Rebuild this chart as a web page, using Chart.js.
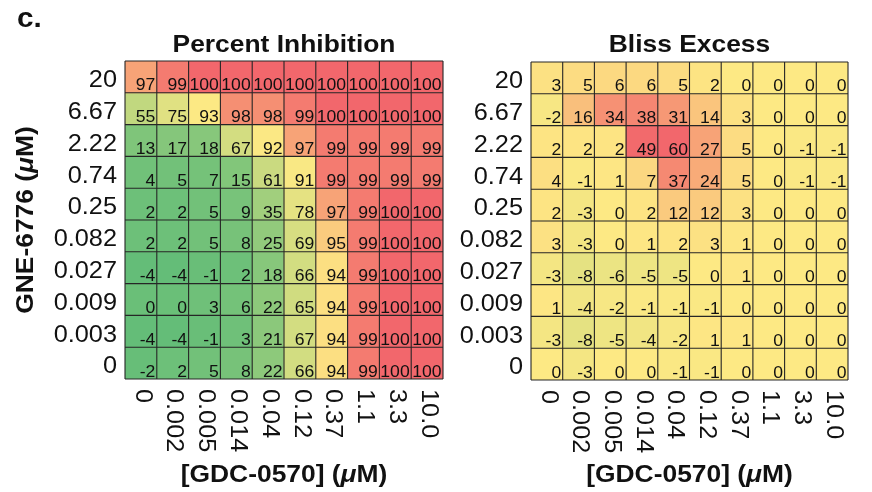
<!DOCTYPE html>
<html>
<head>
<meta charset="utf-8">
<script src="https://cdn.jsdelivr.net/npm/chart.js@4.4.1/dist/chart.umd.min.js"></script>
<style>
  html, body { margin: 0; padding: 0; background: #fff; }
  #wrap { position: relative; width: 872px; height: 492px; }
  #wrap canvas { position: absolute; left: 0; top: 0; }
</style>
</head>
<body>
<div id="wrap">
  <canvas id="inhib" width="872" height="492"></canvas>
  <canvas id="bliss" width="872" height="492"></canvas>
</div>
<script>
// ejes: GDC-0570 en columnas, GNE-6776 en filas (de arriba a abajo)
const gdcLabels = ['0', '0.002', '0.005', '0.014', '0.04', '0.12', '0.37', '1.1', '3.3', '10.0'];
const gneLabels = ['20', '6.67', '2.22', '0.74', '0.25', '0.082', '0.027', '0.009', '0.003', '0'];

// Percent Inhibition
const inhibRows = [
  [97, 99, 100, 100, 100, 100, 100, 100, 100, 100],
  [55, 75, 93, 98, 98, 99, 100, 100, 100, 100],
  [13, 17, 18, 67, 92, 97, 99, 99, 99, 99],
  [4, 5, 7, 15, 61, 91, 99, 99, 99, 99],
  [2, 2, 5, 9, 35, 78, 97, 99, 100, 100],
  [2, 2, 5, 8, 25, 69, 95, 99, 100, 100],
  [-4, -4, -1, 2, 18, 66, 94, 99, 100, 100],
  [0, 0, 3, 6, 22, 65, 94, 99, 100, 100],
  [-4, -4, -1, 3, 21, 67, 94, 99, 100, 100],
  [-2, 2, 5, 8, 22, 66, 94, 99, 100, 100]
];

// Bliss Excess
const blissRows = [
  [3, 5, 6, 6, 5, 2, 0, 0, 0, 0],
  [-2, 16, 34, 38, 31, 14, 3, 0, 0, 0],
  [2, 2, 2, 49, 60, 27, 5, 0, -1, -1],
  [4, -1, 1, 7, 37, 24, 5, 0, -1, -1],
  [2, -3, 0, 2, 12, 12, 3, 0, 0, 0],
  [3, -3, 0, 1, 2, 3, 1, 0, 0, 0],
  [-3, -8, -6, -5, -5, 0, 1, 0, 0, 0],
  [1, -4, -2, -1, -1, -1, 0, 0, 0, 0],
  [-3, -8, -5, -4, -2, 1, 1, 0, 0, 0],
  [0, -3, 0, 0, -1, -1, 0, 0, 0, 0]
];

const FONT = '"Liberation Sans", Arial, Helvetica, sans-serif';
const STRETCH = 1.1; // la fuente del original es algo más ancha
const GREEN = [100, 189, 120], YELLOW = [253, 233, 132], RED = [242, 103, 108];

function mix(a, b, t) {
  t = Math.max(0, Math.min(1, t));
  return 'rgb(' + a.map((v, i) => Math.round(v + (b[i] - v) * t)).join(',') + ')';
}
// escala de 3 colores tipo Excel
function scale3(lo, mid, hi) {
  return v => v <= mid ? mix(GREEN, YELLOW, (v - lo) / (mid - lo)) : mix(YELLOW, RED, (v - mid) / (hi - mid));
}
function median(rows) {
  const a = rows.flat().sort((p, q) => p - q), n = a.length;
  return n % 2 ? a[(n - 1) / 2] : (a[n / 2 - 1] + a[n / 2]) / 2;
}

function text(ctx, s, x, y) {
  ctx.save();
  ctx.translate(x, y);
  ctx.scale(STRETCH, 1);
  ctx.fillText(s, 0, 0);
  ctx.restore();
}

// texto en trozos [texto, italic]
function drawPieces(ctx, pieces, size, cx, cy) {
  const fonts = pieces.map(p => (p[1] ? 'italic ' : '') + 'bold ' + size + 'px ' + FONT);
  const widths = pieces.map((p, i) => { ctx.font = fonts[i]; return ctx.measureText(p[0]).width * STRETCH; });
  let x = cx - widths.reduce((s, w) => s + w, 0) / 2;
  ctx.textAlign = 'left';
  pieces.forEach((p, i) => { ctx.font = fonts[i]; text(ctx, p[0], x, cy); x += widths[i]; });
}

const heatText = {
  id: 'heatText',
  afterDatasetsDraw(chart, args, opts) {
    const ctx = chart.ctx, xs = chart.scales.x, ys = chart.scales.y, area = chart.chartArea;
    const nRows = chart.data.datasets.length, nCols = chart.data.labels.length;
    ctx.save();
    ctx.fillStyle = '#111';

    // valores en cada celda
    ctx.font = '16px ' + FONT;
    ctx.textAlign = 'right';
    ctx.textBaseline = 'alphabetic';
    chart.data.datasets.forEach((ds, r) => {
      chart.getDatasetMeta(r).data.forEach((bar, c) => {
        const bottom = Math.max(bar.y, bar.base);
        text(ctx, String(ds.values[c]), bar.x + bar.width / 2 - 1.5, bottom - 2.5);
      });
    });

    // rejilla
    ctx.strokeStyle = '#262626';
    ctx.lineWidth = 1.1;
    ctx.beginPath();
    for (let i = 0; i <= nCols; i++) {
      const x = xs.getPixelForValue(i - 0.5);
      ctx.moveTo(x, area.top); ctx.lineTo(x, area.bottom);
    }
    for (let j = 0; j <= nRows; j++) {
      const y = ys.getPixelForValue(j);
      ctx.moveTo(area.left, y); ctx.lineTo(area.right, y);
    }
    ctx.stroke();

    // etiquetas eje y
    ctx.font = '23px ' + FONT;
    ctx.textAlign = 'right';
    ctx.textBaseline = 'middle';
    gneLabels.forEach((lab, r) => {
      text(ctx, lab, area.left - 8, ys.getPixelForValue(nRows - r - 0.5) + 4);
    });

    // etiquetas eje x (giradas 90 grados)
    ctx.textAlign = 'left';
    gdcLabels.forEach((lab, c) => {
      ctx.save();
      ctx.translate(xs.getPixelForValue(c) + 1, area.bottom + 10);
      ctx.rotate(Math.PI / 2);
      text(ctx, lab, 0, 0);
      ctx.restore();
    });

    // titulos
    const cx = (area.left + area.right) / 2;
    ctx.textBaseline = 'alphabetic';
    ctx.textAlign = 'center';
    ctx.font = 'bold 24px ' + FONT;
    text(ctx, opts.title, cx, 52);
    drawPieces(ctx, [['[GDC-0570] (', false], ['\u03bc', true], ['M)', false]], 24, cx, 482);

    if (opts.yTitle) {
      ctx.save();
      ctx.translate(33, 220);
      ctx.rotate(-Math.PI / 2);
      drawPieces(ctx, [['GNE-6776 (', false], ['\u03bc', true], ['M)', false]], 24, 0, 0);
      ctx.restore();
      ctx.textAlign = 'left';
      ctx.font = 'bold 27px ' + FONT;
      text(ctx, 'c.', 17, 27);
    }
    ctx.restore();
  }
};

function makeHeatmap(canvasId, rows, colorOf, pad, extra) {
  const datasets = rows.map((vals, r) => ({
    label: gneLabels[r],
    data: vals.map(() => [rows.length - 1 - r, rows.length - r]),
    values: vals,
    backgroundColor: vals.map(colorOf),
    borderWidth: 0,
    barPercentage: 1,
    categoryPercentage: 1,
    grouped: false
  }));
  return new Chart(document.getElementById(canvasId), {
    type: 'bar',
    data: { labels: gdcLabels, datasets: datasets },
    options: {
      responsive: false,
      animation: false,
      devicePixelRatio: 1,
      layout: { padding: pad },
      scales: {
        x: { display: false },
        y: { display: false, min: 0, max: rows.length }
      },
      plugins: { legend: { display: false }, tooltip: { enabled: false }, heatText: extra }
    },
    plugins: [heatText]
  });
}

const inhibFlat = inhibRows.flat();
makeHeatmap('inhib', inhibRows,
  scale3(Math.min(...inhibFlat), median(inhibRows), Math.max(...inhibFlat)),
  { left: 125, top: 61, right: 872 - 443, bottom: 492 - 379 },
  { title: 'Percent Inhibition', yTitle: true });

makeHeatmap('bliss', blissRows,
  scale3(-50, 0, 50),
  { left: 531, top: 62, right: 872 - 848, bottom: 492 - 380 },
  { title: 'Bliss Excess', yTitle: false });
</script>
</body>
</html>
